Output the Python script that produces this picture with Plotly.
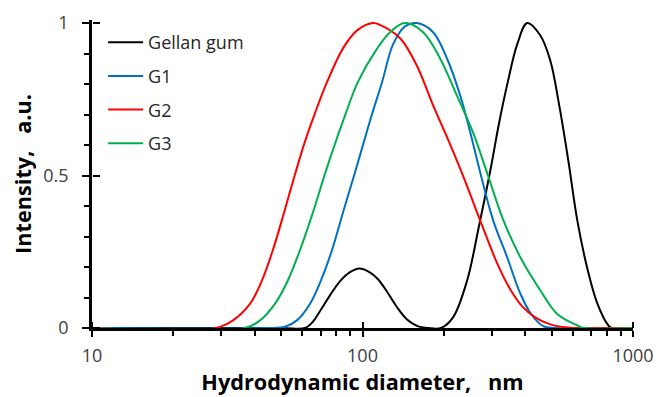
import plotly.graph_objects as go

# ---- data ----
series_names = ["Gellan gum", "G1", "G2", "G3"]
series_colors = ["#000000", "#0070C0", "#FF0000", "#00B050"]

gellan_d = [10, 50, 61.3, 65.0, 69.6, 75.8, 82.5, 89.9, 97.3, 105.7, 114.1, 124.3,
            134.2, 146.1, 159.1, 175, 195, 216.2, 243.7, 269.9, 296.5, 320.1,
            345.5, 373.1, 406.3, 453.9, 494.3, 533.7, 576.4, 622.4, 677.5, 737.8,
            810.2, 835, 1000]
gellan_i = [0, 0, 0, 0.017, 0.055, 0.107, 0.153, 0.183, 0.195, 0.184, 0.160, 0.114,
            0.068, 0.028, 0.007, 0, 0, 0.035, 0.156, 0.337, 0.514, 0.674,
            0.812, 0.930, 1.0, 0.960, 0.878, 0.730, 0.550, 0.353, 0.196, 0.081,
            0.009, 0, 0]

g1_d = [10, 43.6, 51.7, 57.2, 63.9, 70.2, 77.1, 84.7, 93.8, 101.3, 108.4, 118.1,
        129.7, 143.6, 159.1, 182.4, 205.5, 229.6, 250.0, 272.2, 304.1, 342.6,
        382.8, 420.5, 465.8, 515.9, 1000]
g1_i = [0, 0, 0.004, 0.025, 0.079, 0.156, 0.255, 0.379, 0.510, 0.612, 0.701, 0.806,
        0.930, 0.989, 1.0, 0.970, 0.883, 0.763, 0.643, 0.511, 0.353, 0.232,
        0.114, 0.045, 0.006, 0, 0]

g2_d = [10, 28.7, 33.2, 38.3, 42.5, 46.6, 51.2, 56.3, 61.3, 66.7, 73.9, 84.7,
        95.5, 109.4, 116.0, 137.7, 158.7, 182.4, 205.5, 233.4, 272.2, 314.7,
        351.6, 389.4, 435.0, 494.3, 571.5, 695, 1000]
g2_i = [0, 0, 0.025, 0.078, 0.156, 0.255, 0.376, 0.504, 0.612, 0.704, 0.806, 0.917,
        0.976, 1.0, 0.994, 0.950, 0.861, 0.730, 0.625, 0.507, 0.353, 0.212,
        0.127, 0.071, 0.035, 0.012, 0.002, 0, 0]

g3_d = [10, 36.7, 41.8, 47.5, 52.6, 58.7, 65.6, 73.3, 86.2, 96.2, 113.2, 126.4,
        143.6, 167.5, 193.6, 223.2, 255.8, 288.2, 331.9, 382.8, 453.9, 523.4,
        620.3, 660, 1000]
g3_i = [0, 0, 0.025, 0.080, 0.150, 0.255, 0.379, 0.516, 0.697, 0.807, 0.916, 0.970,
        1.0, 0.970, 0.884, 0.763, 0.643, 0.511, 0.353, 0.233, 0.124, 0.047,
        0.009, 0, 0]

x_major = [10, 100, 1000]
x_major_text = ["10", "100", "1000"]
x_minor = [20, 30, 40, 50, 60, 70, 80, 90, 200, 300, 400, 500, 600, 700, 800, 900]
y_major = [0, 0.5, 1]
y_major_text = ["0", "0.5", "1"]

all_d = [gellan_d, g1_d, g2_d, g3_d]
all_i = [gellan_i, g1_i, g2_i, g3_i]

fig = go.Figure()
for name, col, d, inten in zip(series_names, series_colors, all_d, all_i):
    fig.add_trace(go.Scatter(
        x=d, y=inten, mode="lines", name=name, legendgroup=name,
        line=dict(color=col, width=2, shape="spline", smoothing=1.0),
    ))
# placeholder trace that carries the extra axes (inner half of the crossing ticks)
fig.add_trace(go.Scatter(x=[None], y=[None], xaxis="x2", yaxis="y2",
                         mode="lines", showlegend=False, hoverinfo="skip"))

NB = "\u00a0"
TICK_FONT = dict(size=18, color="#404040")
fig.update_layout(
    width=659, height=397,
    margin=dict(l=92, r=26, t=20, b=69, autoexpand=False),
    plot_bgcolor="white", paper_bgcolor="white",
    font=dict(family="Open Sans", color="#404040"),
    showlegend=True,
    legend=dict(x=0.0205, y=0.987, xanchor="left", yanchor="top",
                font=dict(size=18, color="#262626"), itemwidth=35,
                bgcolor="rgba(0,0,0,0)", tracegroupgap=7.3),
    xaxis=dict(
        type="log", range=[1, 3], showgrid=False, zeroline=False,
        showline=True, linecolor="black", linewidth=2.5, layer="below traces",
        automargin=False,
        ticks="outside", ticklen=6, tickwidth=2, tickcolor="black",
        tickvals=x_major, ticktext=x_major_text, tickfont=TICK_FONT,
        ticklabelstandoff=4,
        minor=dict(tickvals=x_minor, ticks="outside", ticklen=5, tickwidth=2,
                   tickcolor="black", showgrid=False),
        title=dict(text="<b>Hydrodynamic diameter," + NB * 3 + "nm</b>",
                   font=dict(size=21.7, color="black"), standoff=8),
    ),
    yaxis=dict(
        range=[0, 1.01], showgrid=False, zeroline=False,
        showline=True, linecolor="black", linewidth=2.5,
        automargin=False,
        ticks="outside", ticklen=7, tickwidth=2, tickcolor="black",
        tickvals=y_major, ticktext=y_major_text, tickfont=TICK_FONT,
        ticklabelstandoff=10,
        minor=dict(dtick=0.1, ticks="outside", ticklen=5, tickwidth=2,
                   tickcolor="black", showgrid=False),
        title=dict(text="<b>Intensity," + NB * 3 + "a.u.</b>",
                   font=dict(size=21.7, color="black"), standoff=6),
    ),
    xaxis2=dict(
        type="log", range=[1, 3], overlaying="x", side="top",
        anchor="free", position=0, automargin=False,
        showgrid=False, zeroline=False, showline=False,
        ticks="outside", ticklen=6, tickwidth=2, tickcolor="black",
        tickvals=x_major, showticklabels=False,
    ),
    yaxis2=dict(
        range=[0, 1.01], overlaying="y", side="right",
        anchor="free", position=0, automargin=False,
        showgrid=False, zeroline=False, showline=False,
        ticks="outside", ticklen=7, tickwidth=2, tickcolor="black",
        tickvals=y_major, showticklabels=False,
    ),
)

fig.write_html("out.html")
